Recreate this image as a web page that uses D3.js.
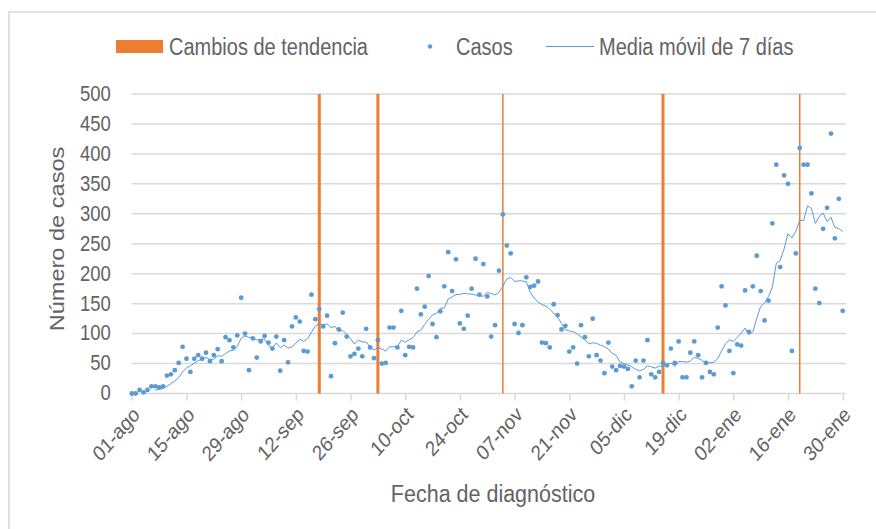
<!DOCTYPE html>
<html>
<script src="https://d3js.org/d3.v7.min.js"></script>
<style>
    body {
        margin: 0;
        background: #fff;
    }

    text {
        font-family: "Liberation Sans", Arial, sans-serif;
        fill: #636363;
    }

    .domain {
        display: none;
    }
</style>

<body>
</body>
<script>
    // daily cases from 01-ago-2020 to 30-ene-2021
    const startDate = "2020-08-01";
    const cases = [
        0, 0, 6, 2, 6, 12, 12, 10, 12, 30, 32, 39, 51, 78, 58, 36, 58, 64, 58, 68,
        54, 64, 74, 54, 94, 89, 77, 97, 160, 100, 39, 92, 60, 87, 96, 85, 75, 95, 38, 89,
        52, 112, 127, 120, 71, 70, 165, 124, 141, 112, 130, 29, 84, 107, 135, 95, 62, 66, 75, 62,
        108, 77, 59, 89, 50, 51, 110, 110, 77, 138, 64, 78, 77, 175, 132, 145, 196, 116, 94, 137,
        179, 236, 171, 224, 117, 108, 130, 175, 225, 165, 216, 162, 95, 114, 205, 299, 247, 234, 116, 101,
        114, 194, 178, 180, 187, 85, 84, 77, 149, 131, 107, 113, 70, 77, 50, 114, 94, 62, 125, 64,
        55, 34, 85, 45, 39, 46, 45, 41, 12, 55, 27, 55, 89, 32, 27, 36, 51, 47, 75, 51,
        87, 27, 27, 68, 87, 64, 27, 51, 36, 32, 110, 179, 147, 71, 34, 82, 80, 172, 103, 179,
        230, 171, 122, 155, 284, 382, 211, 364, 350, 71, 234, 410, 382, 382, 334, 175, 151, 275, 310, 434,
        259, 325, 138
    ];
    const trendChanges = ["2020-09-18", "2020-10-03", "2020-11-04", "2020-12-15", "2021-01-19"];
    const changeWidths = [3, 3, 1.5, 3, 1.5];
    const tickDates = ["2020-08-01", "2020-08-15", "2020-08-29", "2020-09-12", "2020-09-26", "2020-10-10",
        "2020-10-24", "2020-11-07", "2020-11-21", "2020-12-05", "2020-12-19", "2021-01-02", "2021-01-16", "2021-01-30"];
    const monthNames = ["ene", "feb", "mar", "abr", "may", "jun", "jul", "ago", "sep", "oct", "nov", "dic"];
    const yTicks = [0, 50, 100, 150, 200, 250, 300, 350, 400, 450, 500];
    const legendLabels = ["Cambios de tendencia", "Casos", "Media móvil de 7 días"];

    const width = 876,
        height = 529;
    const SY = 1.15; // text in the source looks vertically stretched
    const orange = "#ed7d31",
        blue = "#5b9bd5",
        grid = "#d9d9d9";

    const parse = d3.utcParse("%Y-%m-%d");
    const t0 = parse(startDate);
    const data = cases.map((v, i) => ({ date: d3.utcDay.offset(t0, i), value: v }));
    // 7-day trailing moving average (Excel trendline)
    const ma = data.slice(6).map((d, i) => ({
        date: d.date,
        value: d3.mean(cases.slice(i, i + 7))
    }));

    const svg = d3.select("body").append("svg").attr("width", width).attr("height", height);

    svg.append("rect")
        .attr("x", 9).attr("y", 12)
        .attr("width", 920).attr("height", 600)
        .attr("fill", "#fff")
        .attr("stroke", grid)
        .attr("stroke-width", 1.5);

    const x = d3.scaleUtc()
        .domain([t0, data[data.length - 1].date])
        .range([131.8, 842.7]);
    const y = d3.scaleLinear()
        .domain([0, 500])
        .range([393.5, 94]);

    // gridlines
    svg.append("g").selectAll("line")
        .data(yTicks)
        .join("line")
        .attr("x1", 131.8)
        .attr("x2", 846)
        .attr("y1", d => y(d))
        .attr("y2", d => y(d))
        .attr("stroke", grid)
        .attr("stroke-width", 1.5);

    // y axis
    const yAxis = svg.append("g")
        .attr("transform", "translate(131.8,0)")
        .call(d3.axisLeft(y).tickValues(yTicks).tickSize(0).tickPadding(21));
    yAxis.selectAll(".tick text")
        .attr("font-size", 18.5)
        .attr("transform", `scale(1,${SY})`)
        .attr("dy", "0.3em");

    // x axis
    const fmt = d => d3.utcFormat("%d")(d) + "-" + monthNames[d.getUTCMonth()];
    const xAxis = svg.append("g")
        .attr("transform", `translate(0,${y(0)})`)
        .call(d3.axisBottom(x).tickValues(tickDates.map(parse)).tickFormat(fmt).tickSize(7).tickSizeOuter(0));
    xAxis.selectAll(".tick line")
        .attr("stroke", grid)
        .attr("stroke-width", 1.5);
    xAxis.selectAll(".tick text")
        .attr("font-size", 18.5)
        .attr("text-anchor", "end")
        .attr("x", null)
        .attr("y", null)
        .attr("dy", "0.35em")
        .attr("transform", `translate(4,17) scale(1,${SY}) rotate(-45)`);

    // trend change markers
    svg.append("g").selectAll("line")
        .data(trendChanges)
        .join("line")
        .attr("x1", d => x(parse(d)))
        .attr("x2", d => x(parse(d)))
        .attr("y1", y(500))
        .attr("y2", y(0))
        .attr("stroke", orange)
        .attr("stroke-width", (d, i) => changeWidths[i]);

    // moving average
    svg.append("path")
        .datum(ma)
        .attr("fill", "none")
        .attr("stroke", blue)
        .attr("stroke-width", 1)
        .attr("d", d3.line().x(d => x(d.date)).y(d => y(d.value)));

    // cases
    svg.append("g").selectAll("circle")
        .data(data)
        .join("circle")
        .attr("cx", d => x(d.date))
        .attr("cy", d => y(d.value))
        .attr("r", 2.4)
        .attr("fill", blue);

    // axis titles
    svg.append("text")
        .attr("text-anchor", "middle")
        .attr("dy", "0.35em")
        .attr("font-size", 20.5)
        .attr("fill", "#595959")
        .attr("transform", `translate(57,239) scale(1,${SY}) rotate(-90)`)
        .text("Número de casos");
    svg.append("text")
        .attr("text-anchor", "middle")
        .attr("dy", "0.35em")
        .attr("font-size", 21.5)
        .attr("transform", `translate(493,493) scale(1,${SY})`)
        .text("Fecha de diagnóstico");

    // legend
    const legend = svg.append("g");
    legend.append("rect")
        .attr("x", 116).attr("y", 40)
        .attr("width", 47).attr("height", 13)
        .attr("fill", orange);
    legend.append("circle")
        .attr("cx", 430).attr("cy", 46.5)
        .attr("r", 2.2)
        .attr("fill", blue);
    legend.append("line")
        .attr("x1", 546).attr("x2", 594)
        .attr("y1", 46.5).attr("y2", 46.5)
        .attr("stroke", blue)
        .attr("stroke-width", 1);
    legend.selectAll("text")
        .data(legendLabels)
        .join("text")
        .attr("font-size", 20)
        .attr("dy", "0.35em")
        .attr("transform", (d, i) => `translate(${[169, 456, 599][i]},46.5) scale(1,${SY})`)
        .text(d => d);
</script>

</html>
